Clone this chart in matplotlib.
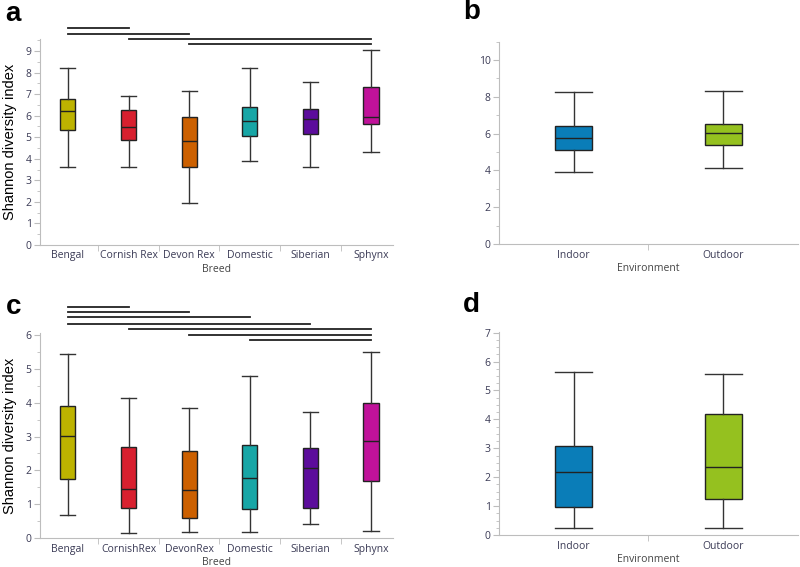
import numpy as np
import matplotlib
matplotlib.use("Agg")
import matplotlib.pyplot as plt
from matplotlib.ticker import MultipleLocator, FixedLocator

# ---- data ----
breeds_a = ['Bengal', 'Cornish Rex', 'Devon Rex', 'Domestic', 'Siberian', 'Sphynx']
breeds_c = ['Bengal', 'CornishRex', 'DevonRex', 'Domestic', 'Siberian', 'Sphynx']
breed_colors = ['#bdb300', '#d8202f', '#cc6000', '#17a6a6', '#5c0c9c', '#c0129a']

# whisker low, Q1, median, Q3, whisker high
a_low = [3.60, 3.63, 1.96, 3.90, 3.60, 4.31]
a_q1 = [5.32, 4.89, 3.63, 5.05, 5.14, 5.60]
a_med = [6.22, 5.49, 4.81, 5.77, 5.83, 5.94]
a_q3 = [6.76, 6.25, 5.93, 6.40, 6.33, 7.31]
a_high = [8.19, 6.93, 7.13, 8.23, 7.56, 9.03]

c_low = [0.69, 0.17, 0.20, 0.20, 0.42, 0.22]
c_q1 = [1.75, 0.89, 0.60, 0.87, 0.90, 1.68]
c_med = [3.01, 1.44, 1.41, 1.78, 2.07, 2.86]
c_q3 = [3.90, 2.69, 2.56, 2.76, 2.66, 4.00]
c_high = [5.43, 4.13, 3.84, 4.78, 3.73, 5.48]

envs = ['Indoor', 'Outdoor']
env_colors = ['#0a7db8', '#95c11f']

b_low = [3.93, 4.13]
b_q1 = [5.09, 5.40]
b_med = [5.78, 6.05]
b_q3 = [6.41, 6.54]
b_high = [8.26, 8.32]

d_low = [0.25, 0.25]
d_q1 = [0.96, 1.25]
d_med = [2.19, 2.34]
d_q3 = [3.09, 4.20]
d_high = [5.63, 5.56]

# significance bars: (group i, group j, level)
sig_a = [(0, 1, 10.05), (0, 2, 9.77), (1, 5, 9.57), (2, 5, 9.34)]
sig_c = [(0, 1, 6.81), (0, 2, 6.66), (0, 3, 6.51), (0, 4, 6.32),
         (1, 5, 6.18), (2, 5, 6.00), (3, 5, 5.85)]

plt.rcParams['font.family'] = ['Open Sans', 'DejaVu Sans']
tick_col = '#3a3a55'
spine_col = '#bdbdbd'


def make_stats(low, q1, med, q3, high):
    return [dict(whislo=lo, q1=a, med=m, q3=b, whishi=hi, fliers=[])
            for lo, a, m, b, hi in zip(low, q1, med, q3, high)]


def draw(ax, stats, labels, colors, xlabel, ylim, major, minor):
    n = len(labels)
    pos = np.arange(n)
    bp = ax.bxp(stats, positions=pos, widths=0.25, patch_artist=True,
                showfliers=False,
                boxprops=dict(edgecolor='#222222', linewidth=1.0),
                medianprops=dict(color='#222222', linewidth=1.0),
                whiskerprops=dict(color='#333333', linewidth=1.0),
                capprops=dict(color='#333333', linewidth=1.0),
                capwidths=0.25)
    for patch, col in zip(bp['boxes'], colors):
        patch.set_facecolor(col)
    if n > 2:
        ax.set_xlim(-0.46, n - 0.64)
    else:
        ax.set_xlim(-0.5, 1.5)
    ax.set_ylim(*ylim)
    ax.set_xticks(pos)
    ax.set_xticklabels(labels)
    ax.xaxis.set_minor_locator(FixedLocator(pos[:-1] + 0.5))
    ax.tick_params(axis='x', which='major', length=0, labelsize=7.5,
                   labelcolor=tick_col, pad=4)
    ax.tick_params(axis='x', which='minor', length=4, color=spine_col)
    ax.yaxis.set_major_locator(MultipleLocator(major))
    ax.yaxis.set_minor_locator(MultipleLocator(minor))
    ax.tick_params(axis='y', which='major', length=4, color=spine_col,
                   labelsize=7.5, labelcolor=tick_col, pad=2)
    ax.tick_params(axis='y', which='minor', length=2, color=spine_col)
    for s in ['top', 'right']:
        ax.spines[s].set_visible(False)
    for s in ['left', 'bottom']:
        ax.spines[s].set_color(spine_col)
    ax.set_xlabel(xlabel, fontsize=7.5, color='#444444', labelpad=1.5)


def draw_sig(ax, sig):
    for i, j, lev in sig:
        ax.plot([i, j], [lev, lev], color='#222222', lw=1.3, clip_on=False)


fig = plt.figure(figsize=(8, 5.67), dpi=100)

ax_a = fig.add_axes([0.05, 0.568, 0.441, 0.363])
draw(ax_a, make_stats(a_low, a_q1, a_med, a_q3, a_high), breeds_a,
     breed_colors, 'Breed', (0, 9.55), 1, 0.5)
draw_sig(ax_a, sig_a)

ax_c = fig.add_axes([0.05, 0.0506, 0.441, 0.3621])
draw(ax_c, make_stats(c_low, c_q1, c_med, c_q3, c_high), breeds_c,
     breed_colors, 'Breed', (0, 6.05), 1, 0.5)
draw_sig(ax_c, sig_c)

for ax in (ax_a, ax_c):
    ax.set_ylabel('Shannon diversity index', fontsize=10.5,
                  family=['Liberation Sans', 'DejaVu Sans'], labelpad=6)

ax_b = fig.add_axes([0.6237, 0.5697, 0.3738, 0.357])
draw(ax_b, make_stats(b_low, b_q1, b_med, b_q3, b_high), envs,
     env_colors, 'Environment', (0, 11.0), 2, 1)

ax_d = fig.add_axes([0.6237, 0.0564, 0.3738, 0.358])
draw(ax_d, make_stats(d_low, d_q1, d_med, d_q3, d_high), envs,
     env_colors, 'Environment', (0, 7.02), 1, 0.25)

for lab, x, y in [('a', 0.007, 0.963), ('b', 0.579, 0.9665),
                  ('c', 0.007, 0.446), ('d', 0.579, 0.450)]:
    fig.text(x, y, lab, fontsize=20, fontweight='bold',
             family=['Liberation Sans', 'DejaVu Sans'], va='baseline')

fig.savefig('out.png', dpi=100)
